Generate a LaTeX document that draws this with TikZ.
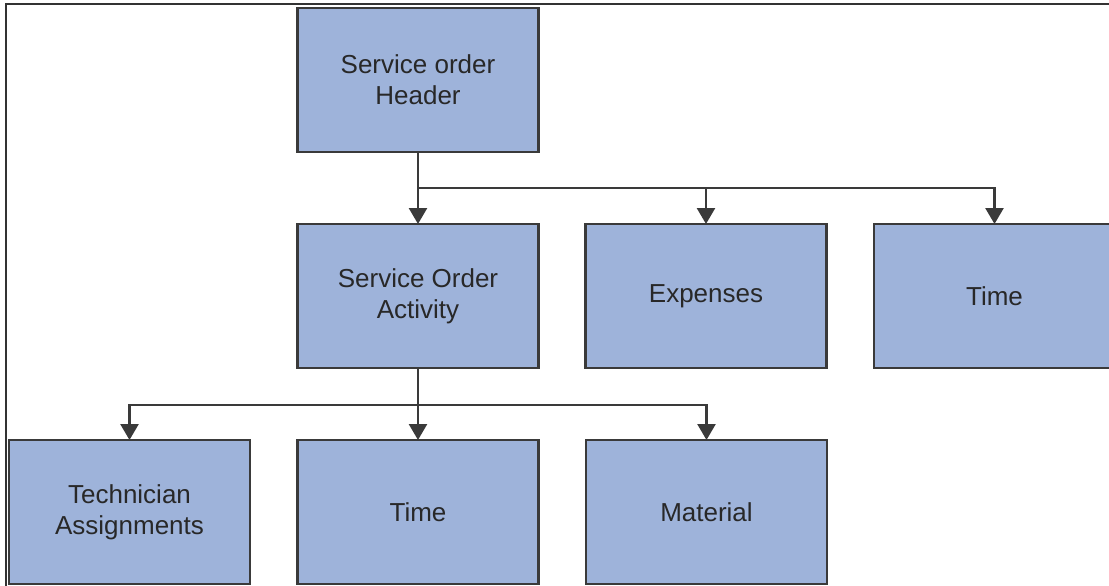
\documentclass[tikz,border=0pt]{standalone}
\usepackage{fontspec}
\setmainfont{Liberation Sans}
\usetikzlibrary{arrows.meta}
\definecolor{boxfill}{RGB}{158,179,218}
\definecolor{boxline}{RGB}{58,58,58}
\definecolor{boxtext}{RGB}{40,40,40}
\begin{document}
\begin{tikzpicture}[x=1pt,y=-1pt,inner sep=0pt,outer sep=0pt,
orgbox/.style={draw=boxline,fill=boxfill,rectangle,line width=2.8pt,minimum width=241pt,minimum height=144pt,align=center,text=boxtext,font=\fontsize{26}{31}\selectfont},
link/.style={draw=boxline,line width=2.6pt,-{Triangle[width=18pt,length=16pt]}}]
\useasboundingbox (0,0) rectangle (1109,586);
\draw[line width=2pt,black!80] (6,586) -- (6,4) -- (1109,4);
\draw (418,80) node[orgbox] (hdr) {Service order\\Header};
\draw (418,296) node[orgbox] (act) {Service Order\\Activity};
\draw (706,296) node[orgbox] (exp) {Expenses};
\draw (994.5,296) node[orgbox] (time1) {Time};
\draw (129.5,512) node[orgbox] (tech) {Technician\\Assignments};
\draw (418,512) node[orgbox] (time2) {Time};
\draw (706.5,512) node[orgbox] (mat) {Material};
\draw[link] (hdr.south) -- (act.north);
\draw[link] (hdr.south) ++(0,36) -| (exp.north);
\draw[link] (hdr.south) ++(0,36) -| (time1.north);
\draw[link] (act.south) -- (time2.north);
\draw[link] (act.south) ++(0,37) -| (tech.north);
\draw[link] (act.south) ++(0,37) -| (mat.north);
\end{tikzpicture}
\end{document}
